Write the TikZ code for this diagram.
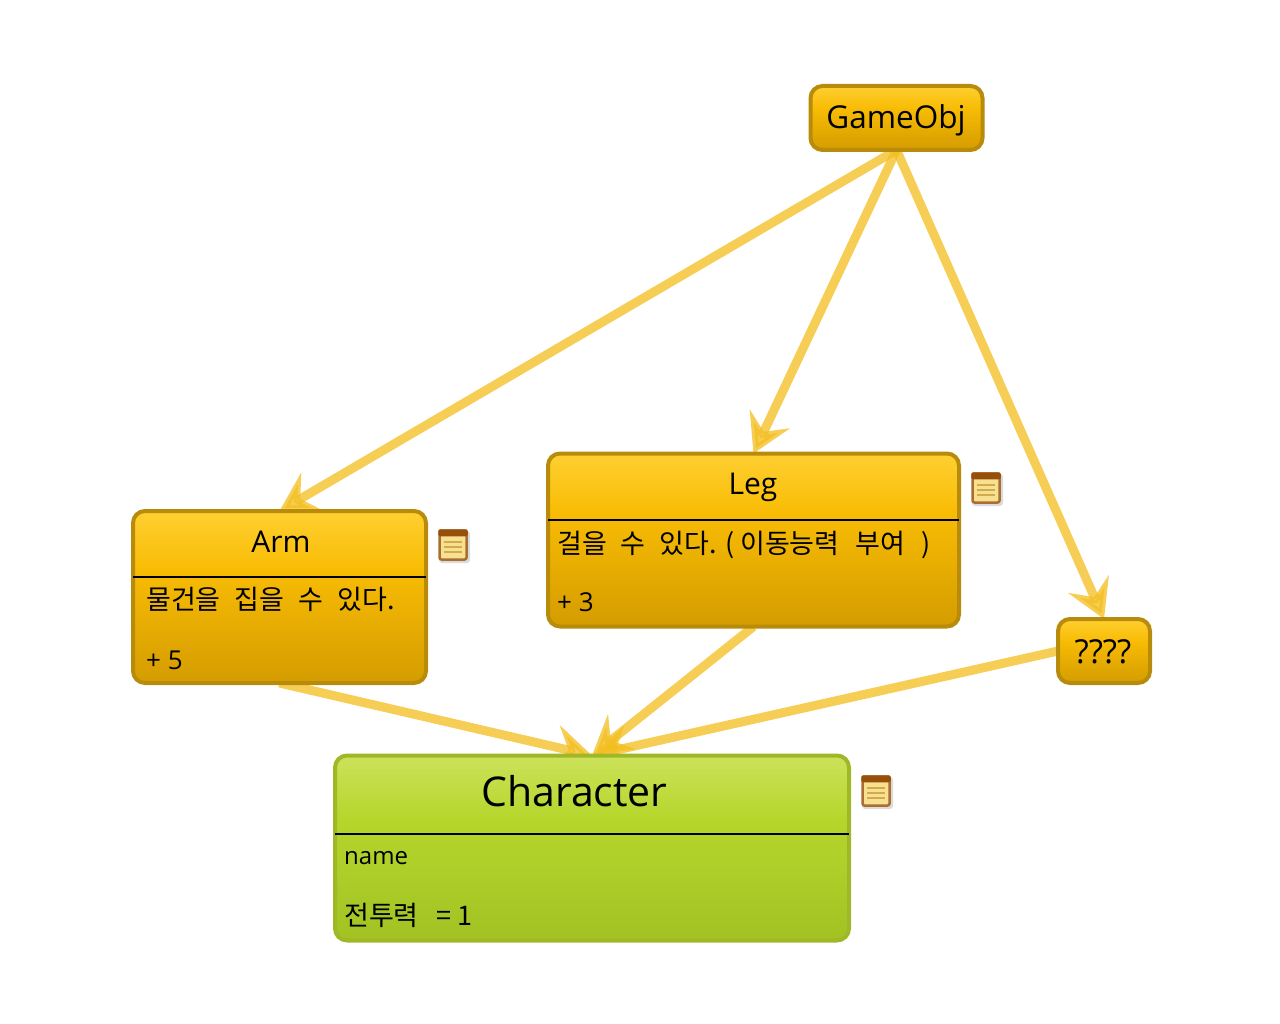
\documentclass[tikz,border=0pt]{standalone}
\usepackage{fontspec}
\setmainfont{Open Sans}
\newfontfamily\krfont{Noto Sans CJK KR}
\usetikzlibrary{calc, arrows.meta, backgrounds}
\definecolor{amberdraw}{RGB}{184,140,10}
\definecolor{ambertop}{RGB}{255,208,50}
\definecolor{ambermid}{RGB}{248,188,4}
\definecolor{amberlow}{RGB}{212,156,0}
\definecolor{limedraw}{RGB}{160,184,40}
\definecolor{limetop}{RGB}{204,226,90}
\definecolor{limemid}{RGB}{182,214,44}
\definecolor{limelow}{RGB}{162,194,36}
\definecolor{linkcol}{RGB}{243,190,30}
\definecolor{notebrown}{RGB}{170,110,50}
\definecolor{notetop}{RGB}{150,80,10}
\definecolor{notefill}{RGB}{248,224,145}
\definecolor{noteline}{RGB}{210,170,80}
\pgfdeclareverticalshading{ambershade}{100bp}{color(0bp)=(amberlow); color(25bp)=(amberlow); color(58bp)=(ambermid); color(75bp)=(ambertop); color(100bp)=(ambertop)}
\pgfdeclareverticalshading{limeshade}{100bp}{color(0bp)=(limelow); color(25bp)=(limelow); color(58bp)=(limemid); color(75bp)=(limetop); color(100bp)=(limetop)}
\tikzset{
	amberbox/.style={draw=amberdraw, line width=4pt, rounded corners=12pt, inner sep=0pt, outer sep=0pt, shading=ambershade},
	limebox/.style={draw=limedraw, line width=4pt, rounded corners=12pt, inner sep=0pt, outer sep=0pt, shading=limeshade},
	boxtitle/.style={inner sep=0pt, font=\fontsize{30}{36}\selectfont},
	boxtext/.style={inner sep=0pt, anchor=base west, font=\fontsize{24}{30}\selectfont},
	linkarrow/.style={draw=linkcol, line width=9pt, opacity=.75, -{Stealth[length=38pt, width=44pt, inset=14pt]}}
}
\newcommand\kr[1]{{\krfont\fontsize{27}{30}\selectfont #1}}
% #1 name, #2 x, #3 y, #4 centre of the icon
\newcommand\noteicon[3]{\fill[black!14, rounded corners=3pt] (#2-14,#3-14) rectangle (#2+17,#3+18);
	\node[draw=notebrown, line width=2.5pt, fill=notefill, rounded corners=2pt, minimum width=27pt, minimum height=29pt, inner sep=0pt] (#1) at (#2,#3) {};
	\fill[notetop, rounded corners=2pt] (#1.north west) rectangle ($(#1.north east)+(0,7)$);
	\foreach \yy in {-3,2,7} {\draw[noteline, line width=2.5pt] (#2-9,#3+\yy) -- (#2+9,#3+\yy);}}
\newcommand\boxrule[2]{\draw[black, line width=2pt] (#1.west |- 0,#2) -- (#1.east |- 0,#2);}

\begin{document}
\begin{tikzpicture}[x=1pt, y=-1pt]
	\useasboundingbox (0,0) rectangle (1280,1024);
	\node[amberbox, minimum width=172pt, minimum height=64pt] (gameobj) at (896.5,118) {};
	\node[amberbox, minimum width=293pt, minimum height=172pt] (arm) at (279.5,597) {};
	\node[amberbox, minimum width=411pt, minimum height=173pt] (leg) at (753.5,540) {};
	\node[amberbox, minimum width=92pt, minimum height=64pt] (unknown) at (1104,651) {};
	\node[limebox, minimum width=514pt, minimum height=185pt] (character) at (592,848) {};

	\node[boxtitle, font=\fontsize{31.5}{36}\selectfont] (gameobjtitle) at (896,120) {GameObj};
	\node[boxtitle, font=\fontsize{33}{36}\selectfont] (unknowntitle) at (1103,652) {????};
	\node[boxtitle] (armtitle) at (281,542) {Arm};
	\node[boxtitle] (legtitle) at (753,487) {Leg};
	\node[boxtitle, font=\fontsize{41}{48}\selectfont] (charactertitle) at (574.5,791) {Character};

	\boxrule{arm}{577}
	\boxrule{leg}{520}
	\boxrule{character}{834}

	\node[boxtext] (armtext) at (146,609) {\kr{물건을\hspace{8pt} 집을\hspace{8pt} 수\hspace{8pt} 있다.}};
	\node[boxtext, font=\fontsize{26}{30}\selectfont] (armbonus) at (146,669) {+ 5};
	\node[boxtext] (legtext) at (557,553) {\kr{걸을\hspace{8pt} 수\hspace{8pt} 있다. ( 이동능력\hspace{10pt} 부여\hspace{10pt} )}};
	\node[boxtext, font=\fontsize{26}{30}\selectfont] (legbonus) at (557,611) {+ 3};
	\node[boxtext] (charactername) at (344,864) {name};
	\node[boxtext] (characterpower) at (344,925) {\kr{전투력\hspace{12pt} = 1}};

	\noteicon{armnote}{453}{545}
	\noteicon{legnote}{986}{488}
	\noteicon{characternote}{876}{791}

	\begin{scope}[on background layer]
		\draw[linkarrow] (gameobj.south) -- (arm.north);
		\draw[linkarrow] (gameobj.south) -- (leg.north);
		\draw[linkarrow] (gameobj.south) -- (unknown.north);
		\draw[linkarrow] (arm.south) -- (character.north);
		\draw[linkarrow] (leg.south) -- (character.north);
		\draw[linkarrow] (unknown.west) -- (character.north);
	\end{scope}
\end{tikzpicture}
\end{document}
